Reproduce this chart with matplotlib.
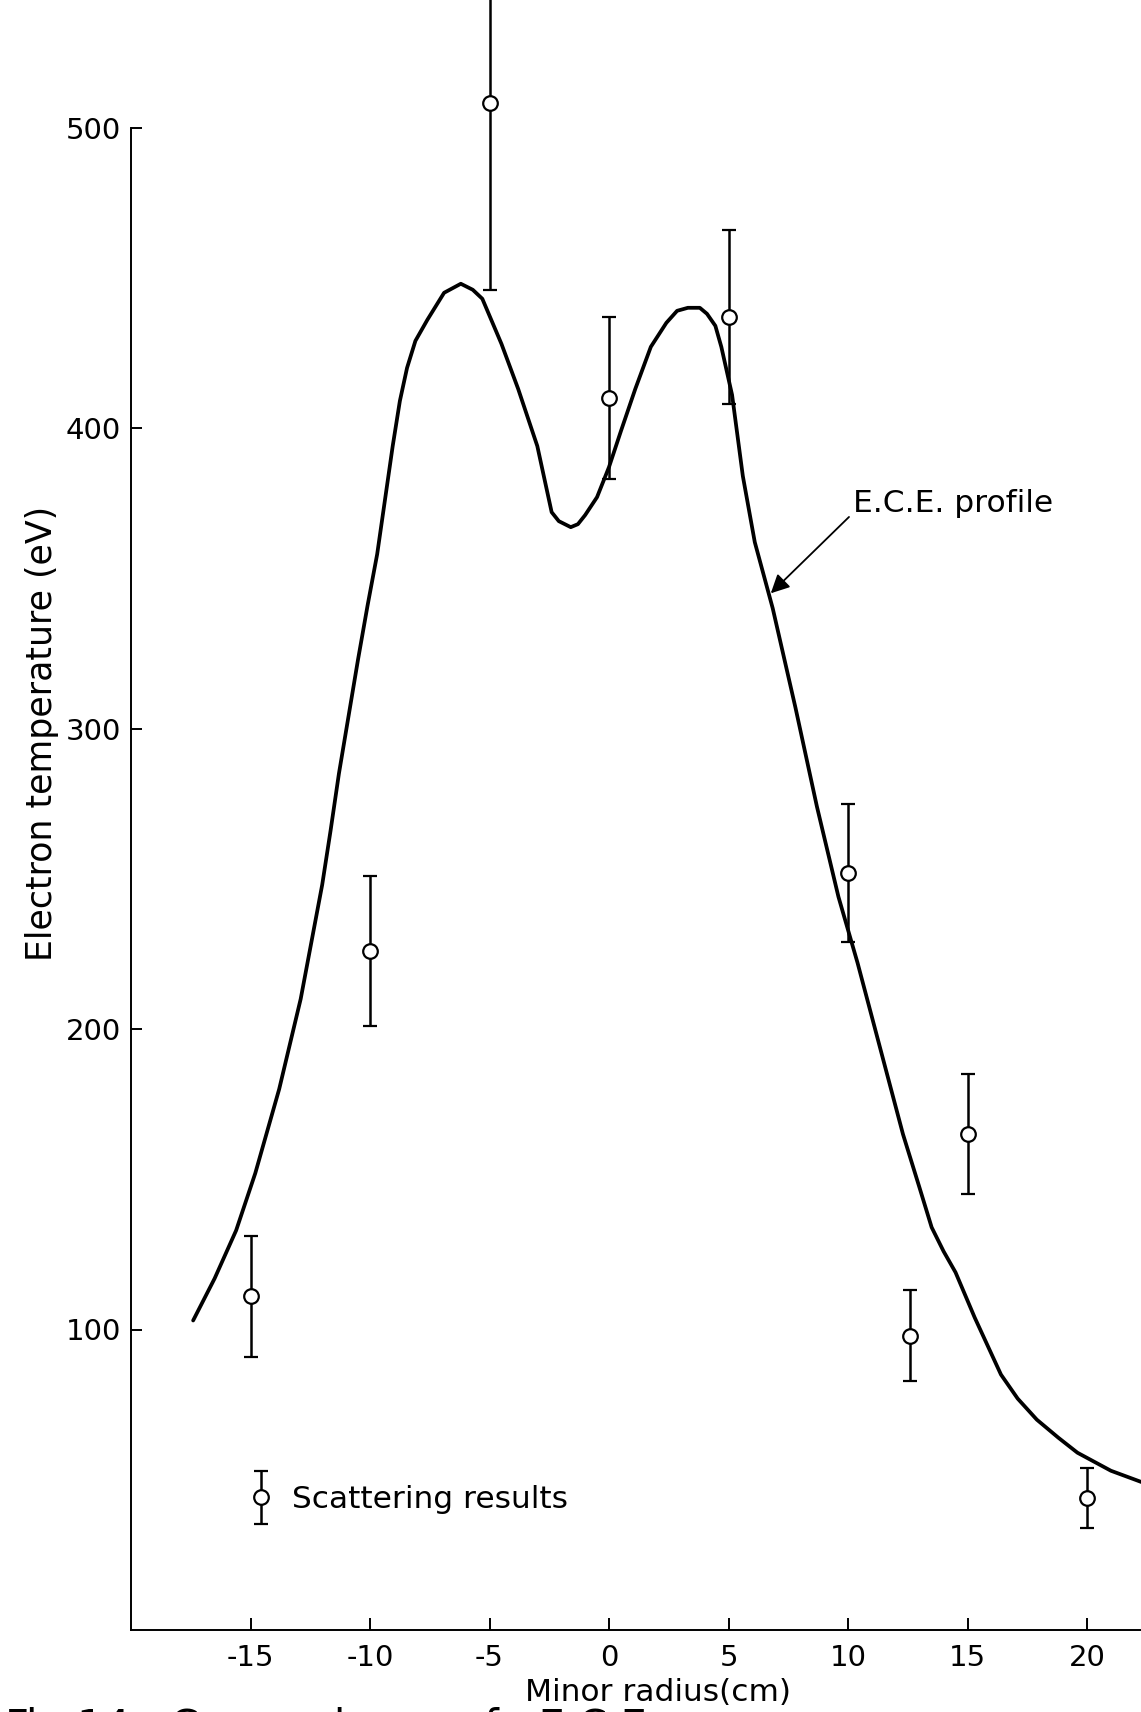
import matplotlib.pyplot as plt
from matplotlib.container import ErrorbarContainer
from matplotlib.legend_handler import HandlerErrorbar

plt.rcParams['font.family'] = ['DejaVu Sans']
plt.rcParams['axes.unicode_minus'] = False

# E.C.E. profile
ece_r = [-17.4, -16.5, -15.6, -14.8, -13.8, -12.9, -12.0, -11.65, -11.3,
         -10.5, -10.1, -9.7, -9.05, -8.75, -8.45, -8.1, -7.6, -6.9, -6.2,
         -5.7, -5.3, -4.5, -3.8, -3.0, -2.7, -2.4, -2.1, -1.6, -1.3, -1.0,
         -0.5, 0.0, 0.5, 1.1, 1.75, 2.4, 2.85, 3.3, 3.8, 4.1, 4.45, 4.7,
         5.15, 5.6, 6.1, 6.85, 7.8, 8.7, 9.6, 10.4, 11.4, 12.3, 13.0, 13.5,
         14.0, 14.5, 15.3, 16.4, 17.1, 17.9, 18.8, 19.6, 21.0, 22.7]
ece_te = [103, 117, 133, 152, 180, 210, 248, 266, 285,
          323, 341, 358, 394, 409, 420, 429, 436, 445, 448,
          446, 443, 428, 413, 394, 383, 372, 369, 367, 368, 371,
          377, 387, 399, 413, 427, 435, 439, 440, 440, 438, 434, 427,
          411, 384, 362, 340, 307, 274, 244, 222, 192, 165, 147, 134,
          126, 119, 104, 85, 77, 70, 64, 59, 53, 48]

# Thomson scattering results
scat_r = [-15, -10, -5, 0, 5, 10, 12.6, 15, 20]
scat_te = [111, 226, 508, 410, 437, 252, 98, 165, 44]
scat_err = [20, 25, 62, 27, 29, 23, 15, 20, 10]

xticks = [-15, -10, -5, 0, 5, 10, 15, 20]
yticks = [100, 200, 300, 400, 500]

W, H = 1141, 1712
L, B = 131, 1630          # axes origin in pixels
px_x, px_y = 23.9, 3.005  # pixels per unit

fig = plt.figure(figsize=(W / 100, H / 100), dpi=100)
ax = fig.add_axes([L / W, (H - B) / H, (W - L) / W, B / H])
ax.set_xlim(-20, -20 + (W - L) / px_x)
ax.set_ylim(0, B / px_y)

ax.plot(ece_r, ece_te, color='black', lw=2.7, solid_joinstyle='round',
        solid_capstyle='round')
ax.errorbar(scat_r, scat_te, yerr=scat_err, fmt='o', ms=10.5, mfc='white',
            mec='black', mew=1.6, ecolor='black', elinewidth=1.8,
            capsize=5, capthick=1.8, zorder=3, label='Scattering results')

ax.annotate('E.C.E. profile', xy=(6.77, 345), xytext=(10.2, 375),
            fontsize=22.5, va='center', ha='left',
            arrowprops=dict(arrowstyle='-|>', color='black', lw=1.3,
                            mutation_scale=28, shrinkA=1, shrinkB=0,
                            relpos=(0, 0.15)))

leg = ax.legend(loc='center left', bbox_to_anchor=(0.098, 0.080),
                frameon=False, fontsize=22.5, borderpad=0, handlelength=1.0,
                handletextpad=0.5,
                handler_map={ErrorbarContainer: HandlerErrorbar(xerr_size=0.5, yerr_size=0.85)})

for s in ['top', 'right']:
    ax.spines[s].set_visible(False)
for s in ['left', 'bottom']:
    ax.spines[s].set_linewidth(1.4)
ax.spines['left'].set_bounds(0, 500)

ax.set_xticks(xticks)
ax.set_yticks(yticks)
ax.tick_params(axis='x', direction='in', length=9, width=1.4, pad=10,
               labelsize=21)
ax.tick_params(axis='y', direction='in', length=8, width=1.4, pad=7,
               labelsize=21)

ax.set_xlabel('Minor radius(cm)', fontsize=22.5, va='top')
ax.xaxis.set_label_coords((658 - L) / (W - L), -(1678 - B) / B)
ax.set_ylabel('Electron temperature (eV)', fontsize=25, va='center')
ax.yaxis.set_label_coords(-(L - 42) / (W - L), (B - 733) / B)

# figure caption, cut by the bottom edge as in the scan
fig.text(5 / W, 1 - 1707 / H, 'Fig.14   Comparison   of   E.C.E.',
         fontsize=30, va='top', ha='left')

fig.savefig('out.png', dpi=100)
